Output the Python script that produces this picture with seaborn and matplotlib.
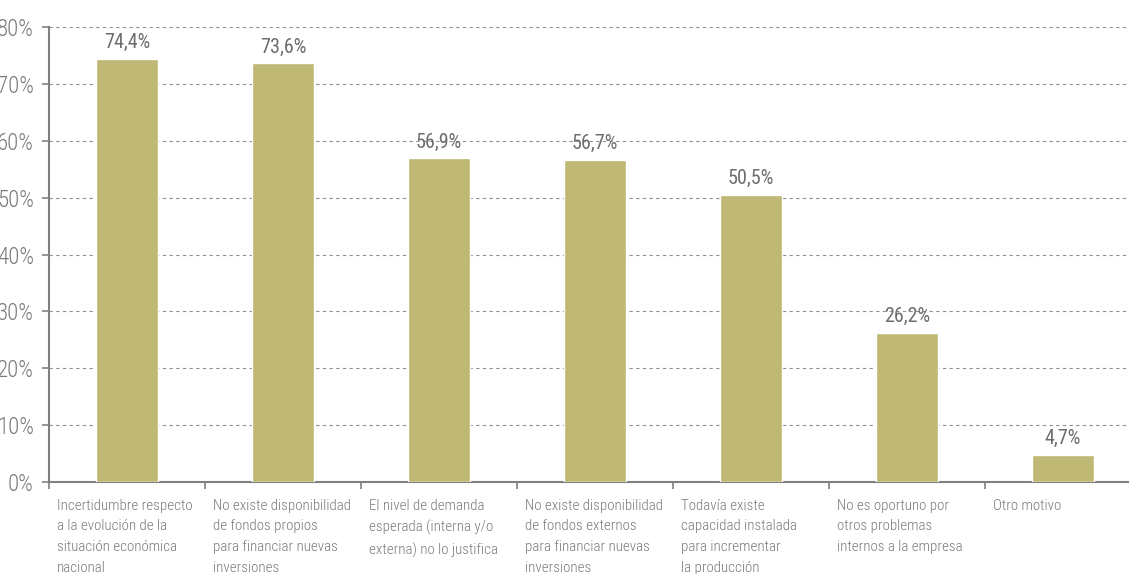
import matplotlib
matplotlib.use("Agg")
import matplotlib.pyplot as plt
import seaborn as sns
import pandas as pd
import numpy as np

categories = [
    "Incertidumbre respecto\na la evolución de la\nsituación económica\nnacional",
    "No existe disponibilidad\nde fondos propios\npara financiar nuevas\ninversiones",
    "El nivel de demanda\nesperada (interna y/o\nexterna) no lo justifica",
    "No existe disponibilidad\nde fondos externos\npara financiar nuevas\ninversiones",
    "Todavía existe\ncapacidad instalada\npara incrementar\nla producción",
    "No es oportuno por\notros problemas\ninternos a la empresa",
    "Otro motivo",
]
values = [74.4, 73.6, 56.9, 56.7, 50.5, 26.2, 4.7]
value_labels = ["74,4%", "73,6%", "56,9%", "56,7%", "50,5%", "26,2%", "4,7%"]
y_ticks = [0, 10, 20, 30, 40, 50, 60, 70, 80]
y_tick_labels = ["0%", "10%", "20%", "30%", "40%", "50%", "60%", "70%", "80%"]

sns.set_theme(style="white")
plt.rcParams["font.family"] = ["Roboto Condensed", "DejaVu Sans"]

bar_color = "#BFB975"
text_gray = "#7a7a7a"
value_gray = "#6d6d6d"
axis_gray = "#808080"

W, H = 1129, 574
fig = plt.figure(figsize=(W / 100, H / 100), dpi=100)
# the plotting area runs past the right edge of the figure
left, right_px, bottom_px, top_px = 49, 49 + 7 * 156, 482, 27
ax = fig.add_axes([left / W, (H - bottom_px) / H, (right_px - left) / W, (bottom_px - top_px) / H])

df = pd.DataFrame({"cat": categories, "val": values})
sns.barplot(data=df, x="cat", y="val", color=bar_color, saturation=1, width=0.4, ax=ax, zorder=3)

ax.set_xlim(-0.5, len(categories) - 0.5)
ax.set_ylim(0, 80)
ax.set_yticks(y_ticks)
ax.set_yticklabels(y_tick_labels, fontsize=16.5, color=text_gray, fontweight="light")
ax.tick_params(axis="y", length=5, width=1.2, color=axis_gray, pad=6, left=True)

# separator ticks between categories
ax.set_xticks(np.arange(len(categories) + 1) - 0.5)
ax.set_xticklabels([])
ax.tick_params(axis="x", length=5, width=1.2, color=axis_gray, bottom=True, direction="out")

for i, cat in enumerate(categories):
    ax.annotate(cat, xy=(i - 0.5, 0), xycoords="data", xytext=(6, -12),
                textcoords="offset points", ha="left", va="top",
                fontsize=10.8, fontweight="light", color=text_gray,
                linespacing=1.62, annotation_clip=False)

for i, (v, lab) in enumerate(zip(values, value_labels)):
    ax.annotate(lab, xy=(i, v), xytext=(0, 5), textcoords="offset points",
                ha="center", va="bottom", fontsize=14.5, color=value_gray)

ax.yaxis.grid(True, linestyle=(0, (3, 3)), color="#909090", linewidth=0.8, zorder=0)
ax.xaxis.grid(False)
ax.set_xlabel("")
ax.set_ylabel("")
for s in ["top", "right"]:
    ax.spines[s].set_visible(False)
for s in ["left", "bottom"]:
    ax.spines[s].set_color(axis_gray)
    ax.spines[s].set_linewidth(1.5)

fig.savefig("out.png", dpi=100)
